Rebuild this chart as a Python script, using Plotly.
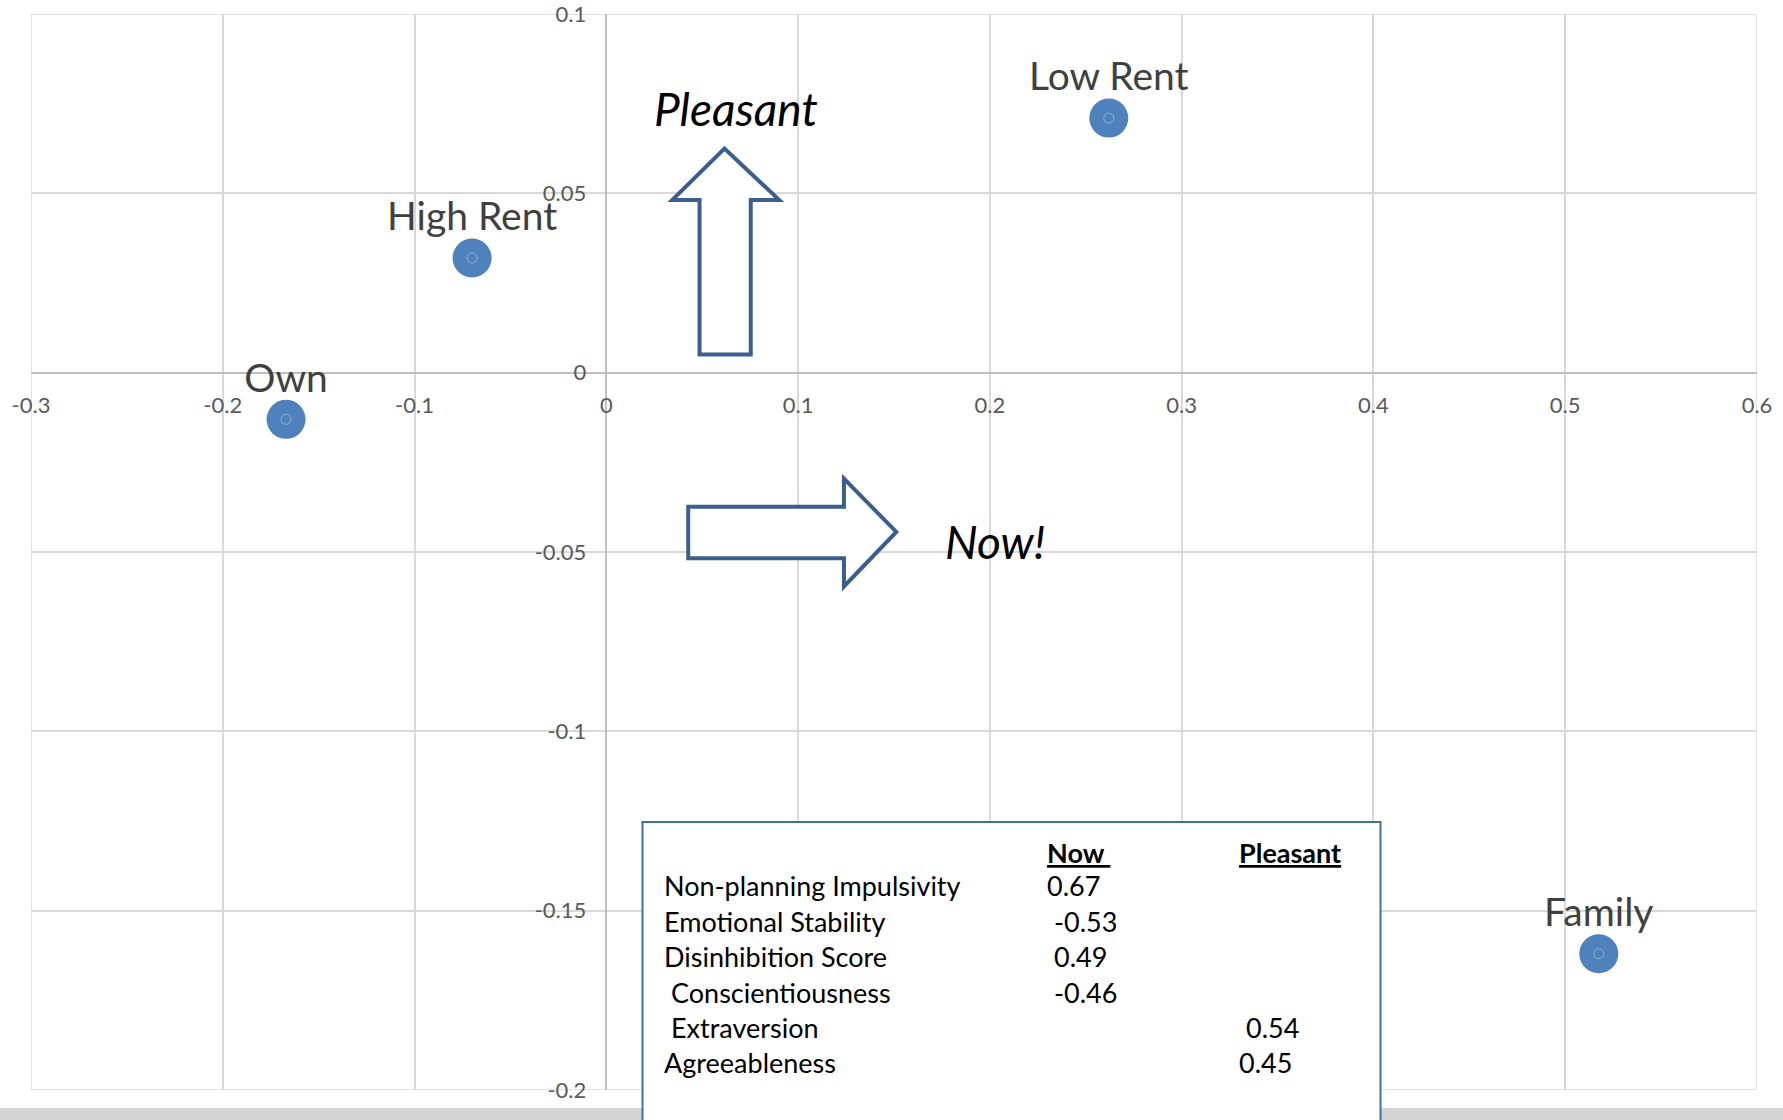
import plotly.graph_objects as go

# ---------------- data ----------------
point_names = ["Own", "High Rent", "Low Rent", "Family"]
x_vals = [-0.167, -0.070, 0.262, 0.5175]
y_vals = [-0.013, 0.032, 0.071, -0.162]

x_ticks = [-0.3, -0.2, -0.1, 0, 0.1, 0.2, 0.3, 0.4, 0.5, 0.6]
y_ticks = [-0.2, -0.15, -0.1, -0.05, 0, 0.05, 0.1]

table_labels = ["Non-planning Impulsivity", "Emotional Stability", "Disinhibition Score",
                "Conscientiousness", "Extraversion", "Agreeableness"]
now_values = ["0.67", "-0.53", "0.49", "-0.46", "", ""]
pleasant_values = ["", "", "", "", "0.54", "0.45"]

# ---------------- layout geometry ----------------
W, H = 1783, 1120
ML, MR, MT, MB = 31, 26, 14, 30
PL, PR, PT, PB = ML, W - MR, MT, H - MB


def pxx(px):
    return (px - PL) / (PR - PL)


def pxy(py):
    return (PB - py) / (PB - PT)


FONT = "Lato, 'Open Sans', sans-serif"
BLUE = "#4F81BD"
ARROW = "#3B5F8C"

fig = go.Figure()

fig.add_trace(go.Scatter(
    x=x_vals, y=y_vals, mode="markers",
    marker=dict(size=39, color=BLUE, line=dict(width=0)),
    showlegend=False, hoverinfo="skip"))
fig.add_trace(go.Scatter(
    x=x_vals, y=y_vals, mode="markers",
    marker=dict(size=10, symbol="circle-open", color="rgba(255,255,255,0.35)",
                line=dict(width=1, color="rgba(255,255,255,0.35)")),
    showlegend=False, hoverinfo="skip"))
fig.add_trace(go.Scatter(
    x=x_vals, y=y_vals, mode="markers+text", text=point_names,
    textposition="top center",
    textfont=dict(family=FONT, size=39, color="#404040"),
    marker=dict(size=27, color="rgba(0,0,0,0)"),
    cliponaxis=False, showlegend=False, hoverinfo="skip"))

shapes = []
# outer frame
shapes.append(dict(type="rect", xref="x", yref="y", x0=-0.3, x1=0.6, y0=-0.2, y1=0.1,
                   line=dict(color="#D9D9D9", width=1.5), layer="below"))

# up arrow (Pleasant)
up = [(0.0486, 0.0051), (0.0486, 0.0482), (0.0344, 0.0482), (0.0616, 0.0625),
      (0.0901, 0.0482), (0.0753, 0.0482), (0.0753, 0.0051)]
path = "M " + " L ".join(f"{x},{y}" for x, y in up) + " Z"
shapes.append(dict(type="path", xref="x", yref="y", path=path, fillcolor="white",
                   line=dict(color=ARROW, width=4)))
# right arrow (Now!)
rt = [(0.0427, -0.0374), (0.1239, -0.0374), (0.1239, -0.0295), (0.1512, -0.0444),
      (0.1239, -0.0596), (0.1239, -0.0517), (0.0427, -0.0517)]
path = "M " + " L ".join(f"{x},{y}" for x, y in rt) + " Z"
shapes.append(dict(type="path", xref="x", yref="y", path=path, fillcolor="white",
                   line=dict(color=ARROW, width=4)))

# bottom grey strip
shapes.append(dict(type="rect", xref="paper", yref="paper", x0=pxx(0), x1=pxx(W),
                   y0=pxy(H + 5), y1=pxy(1108), fillcolor="#D4D4D4", line=dict(width=0)))
# table box
shapes.append(dict(type="rect", xref="paper", yref="paper", x0=pxx(642.5), x1=pxx(1380.5),
                   y0=pxy(H + 10), y1=pxy(822), fillcolor="white",
                   line=dict(color="#41719C", width=2)))

annotations = []
annotations.append(dict(x=pxx(736), y=pxy(109), xref="paper", yref="paper",
                        xanchor="center", yanchor="middle",
                        text="<i>Pleasant</i>", showarrow=False,
                        font=dict(family=FONT, size=46, color="black")))
annotations.append(dict(x=pxx(995), y=pxy(541), xref="paper", yref="paper",
                        xanchor="center", yanchor="middle",
                        text="<i>Now!</i>", showarrow=False,
                        font=dict(family=FONT, size=46, color="black")))

TF = dict(family=FONT, size=27, color="black")
annotations.append(dict(x=pxx(1045), y=pxy(852), xref="paper", yref="paper",
                        xanchor="left", yanchor="middle",
                        text="<b><u>Now </u></b>", showarrow=False, font=TF))
annotations.append(dict(x=pxx(1237), y=pxy(852), xref="paper", yref="paper",
                        xanchor="left", yanchor="middle",
                        text="<b><u>Pleasant</u></b>", showarrow=False, font=TF))
row_y = [886, 921, 956, 992, 1027, 1062]
label_x = [662, 662, 662, 669, 669, 662]
now_x = [1045, 1052, 1052, 1052, 1052, 1052]
ple_x = [1237, 1237, 1237, 1237, 1244, 1237]
for i, lab in enumerate(table_labels):
    annotations.append(dict(x=pxx(label_x[i]), y=pxy(row_y[i]), xref="paper", yref="paper",
                            xanchor="left", yanchor="middle",
                            text=lab, showarrow=False, font=TF))
    if now_values[i]:
        annotations.append(dict(x=pxx(now_x[i]), y=pxy(row_y[i]), xref="paper", yref="paper",
                                xanchor="left", yanchor="middle",
                                text=now_values[i], showarrow=False, font=TF))
    if pleasant_values[i]:
        annotations.append(dict(x=pxx(ple_x[i]), y=pxy(row_y[i]), xref="paper", yref="paper",
                                xanchor="left", yanchor="middle",
                                text=pleasant_values[i], showarrow=False, font=TF))

tickfont = dict(family=FONT, size=22, color="#595959")
fig.update_layout(
    width=W, height=H,
    margin=dict(l=ML, r=MR, t=MT, b=MB, pad=0, autoexpand=False),
    paper_bgcolor="white", plot_bgcolor="white",
    shapes=shapes, annotations=annotations,
    xaxis=dict(range=[-0.3, 0.6], tickvals=x_ticks, ticktext=[f"{v:g}" for v in x_ticks],
               showgrid=True, gridcolor="#D9D9D9", gridwidth=1.5,
               zeroline=True, zerolinecolor="#BFBFBF", zerolinewidth=2,
               showline=False, ticks="", anchor="free", position=2 / 3, automargin=False,
               ticklabelstandoff=17, ticklabeloverflow="allow",
               tickfont=tickfont, fixedrange=True),
    yaxis=dict(range=[-0.2, 0.10003], tickvals=y_ticks, ticktext=[f"{v:g}" for v in y_ticks],
               showgrid=True, gridcolor="#D9D9D9", gridwidth=1.5,
               zeroline=True, zerolinecolor="#BFBFBF", zerolinewidth=2,
               showline=False, ticks="", anchor="free", position=1 / 3, automargin=False,
               ticklabelstandoff=20, ticklabeloverflow="allow",
               tickfont=tickfont, fixedrange=True),
)

fig.write_html("out.html")
